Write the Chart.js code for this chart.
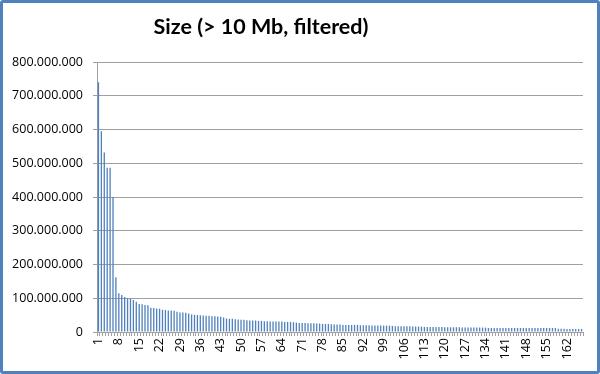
<!DOCTYPE html>
<html>
<head>
<meta charset="utf-8">
<script src="https://cdn.jsdelivr.net/npm/chart.js@4/dist/chart.umd.min.js"></script>
<style>
  html, body { margin: 0; padding: 0; background: #fff; }
  #wrap { position: relative; width: 600px; height: 374px; overflow: hidden; background: #fff; }
  #c { position: absolute; left: 0; top: 0; }
  #frame { position: absolute; left: 0; top: 0; width: 600px; height: 374px; box-sizing: border-box;
           border: 3px solid #4F81BD; border-radius: 3px; pointer-events: none; }
  #title { position: absolute; left: 0; top: 13px; width: 522px; text-align: center;
           font: bold 21.5px Lato, sans-serif; color: #000; }
</style>
</head>
<body>
<div id="wrap">
  <canvas id="c" width="600" height="374"></canvas>
  <div id="title">Size (&gt; 10 Mb, filtered)</div>
  <div id="frame"></div>
</div>
<script>
// Chart title
const chartTitle = "Size (> 10 Mb, filtered)";

// Category indices 1..167
const categories = [];
for (let i = 1; i <= 167; i++) categories.push(String(i));

// Tick labels shown on the x axis (every 7th category)
const shownTickLabels = ["1","8","15","22","29","36","43","50","57","64","71","78","85","92","99","106","113","120","127","134","141","148","155","162"];

// Y axis tick values
const yTicks = [0, 100000000, 200000000, 300000000, 400000000, 500000000, 600000000, 700000000, 800000000];

// Sizes in millions
const sizeMillions = [
  740, 595, 532, 487, 487, 400, 162, 115, 110, 104,
  100, 99, 95, 90, 83, 82, 80, 79, 72, 71,
  70, 69, 66, 65, 64, 64, 63, 60, 58, 58,
  57, 55, 52, 51, 50, 50, 49, 48, 48, 47,
  47, 46, 45, 43, 40, 39, 39, 38, 37, 36,
  36, 35, 34, 34, 34, 33, 33, 32, 32, 31,
  31, 31, 31, 31, 30, 30, 30, 29, 28, 27,
  27, 27, 26, 26, 26, 25, 25, 24, 24, 24,
  23, 22, 22, 22, 21, 21, 21, 21, 21, 21,
  20, 20, 20, 20, 19, 19, 19, 19, 19, 19,
  19, 18, 17, 17, 17, 17, 17, 17, 16, 16,
  16, 16, 15, 15, 15, 15, 15, 15, 15, 14,
  14, 14, 14, 14, 14, 13, 13, 13, 13, 13,
  13, 13, 13, 13, 12, 12, 12, 12, 12, 12,
  12, 12, 12, 12, 12, 12, 12, 12, 12, 12,
  12, 12, 12, 12, 12, 12, 12, 12, 10, 10,
  10, 9, 9, 9, 9, 9, 9
];
const sizes = sizeMillions.map(v => v * 1000000);

function fmt(v) {
  return String(Math.round(v)).replace(/\B(?=(\d{3})+(?!\d))/g, '.');
}

const gridColor = '#A0A0A0';
const tickFont = { family: '"Open Sans", sans-serif', size: 12.5 };

new Chart(document.getElementById('c'), {
  type: 'bar',
  data: {
    labels: categories,
    datasets: [{
      label: chartTitle,
      data: sizes,
      backgroundColor: '#4F81BD',
      borderWidth: 0,
      categoryPercentage: 1.0,
      barPercentage: 0.45
    }]
  },
  options: {
    responsive: false,
    animation: false,
    devicePixelRatio: 1,
    layout: { padding: { left: 0, top: 62, right: 17, bottom: 0 } },
    plugins: {
      legend: { display: false },
      title: { display: false },
      tooltip: { enabled: false }
    },
    scales: {
      x: {
        grid: { display: true, drawOnChartArea: false, drawTicks: true, tickLength: 4, color: gridColor, offset: true },
        border: { display: true, color: gridColor, width: 1 },
        ticks: {
          autoSkip: false,
          minRotation: 90,
          maxRotation: 90,
          padding: 2,
          color: '#000',
          font: tickFont,
          callback: function (value, index) {
            const lab = categories[index];
            return shownTickLabels.includes(lab) ? lab : '';
          }
        },
        afterFit: function (scale) { scale.height = 42; }
      },
      y: {
        min: 0,
        max: 800000000,
        grid: { color: gridColor, lineWidth: 1, drawTicks: true, tickLength: 4 },
        border: { display: true, color: gridColor, width: 1 },
        afterBuildTicks: function (scale) { scale.ticks = yTicks.map(v => ({ value: v })); },
        ticks: {
          padding: 10,
          color: '#000',
          font: tickFont,
          callback: function (value) { return fmt(value); }
        },
        afterFit: function (scale) { scale.width = 97; }
      }
    }
  }
});
</script>
</body>
</html>
